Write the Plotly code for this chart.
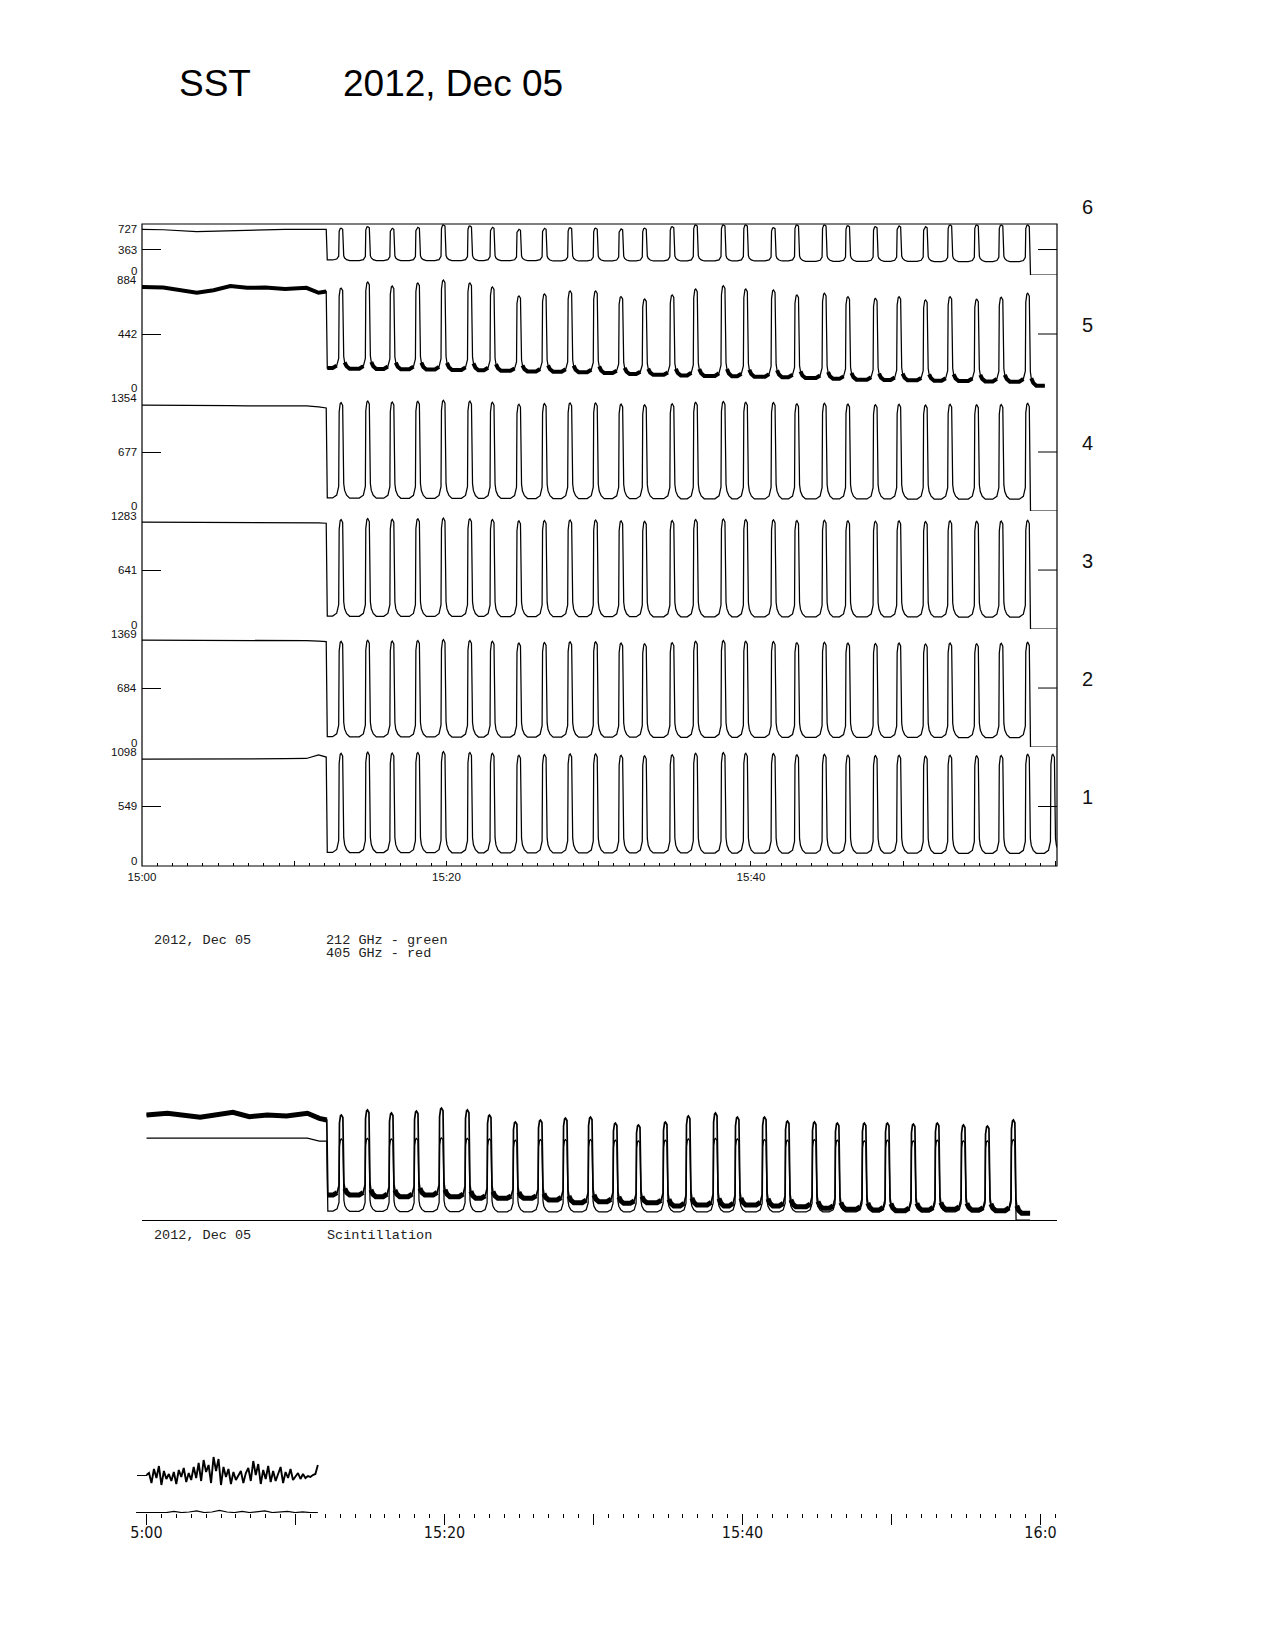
import plotly.graph_objects as go

W, H = 1275, 1650

# ---------------- data ----------------
# time in minutes after 15:00
PRE_T = [0, 1.4, 3.6, 4.7, 5.8, 6.9, 8.1, 9.4, 10.8, 11.6, 12.1]
DROP_T = 12.17
FINAL_T = 58.36
PEAK_T = [13.05, 14.80, 16.41, 18.09, 19.77, 21.51, 22.99, 24.73, 26.41, 28.09,
          29.77, 31.44, 32.99, 34.80, 36.34, 38.16, 39.63, 41.45, 42.99, 44.80,
          46.34, 48.15, 49.70, 51.44, 53.05, 54.80, 56.41, 58.15]

CH_TOP = [1098, 1369, 1283, 1354, 884, 727]      # channels 1..6
CH_MID = [549, 684, 641, 677, 442, 363]
CH_NAMES = ["1", "2", "3", "4", "5", "6"]

PRE_1 = [987, 987, 985, 985, 987, 987, 990, 990, 992, 1024, 1005]
PRE_2 = [1241, 1241, 1238, 1238, 1236, 1236, 1235, 1235, 1233, 1228, 1222]
PRE_3 = [1163, 1163, 1160, 1160, 1158, 1158, 1156, 1156, 1155, 1155, 1150]
PRE_4 = [1216, 1216, 1216, 1210, 1210, 1205, 1205, 1205, 1205, 1195, 1182]
PRE_5 = [794, 790, 751, 770, 801, 788, 790, 779, 788, 751, 760]
PRE_6 = [651, 645, 617, 625, 635, 641, 645, 651, 651, 651, 651]

PEAK_1 = [1040, 1050, 1042, 1047, 1055, 1047, 1040, 1022, 1028, 1034, 1034, 1022, 1016, 1026,
          1040, 1046, 1040, 1037, 1026, 1030, 1022, 1018, 1022, 1014, 1022, 1016, 1020, 1030]
VALLEY_1 = [125, 124, 124, 123, 123, 122, 122, 121, 121, 121, 120, 120, 120, 120,
            120, 119, 119, 119, 119, 118, 118, 118, 118, 118, 117, 117, 117, 117]
P1_EXTRA_T = 59.8
P1_EXTRA_PEAK = 1030
P1_EXTRA_VALLEY = 117

PEAK_2 = [1225, 1238, 1228, 1235, 1245, 1236, 1226, 1205, 1212, 1220, 1220, 1205, 1198, 1210,
          1226, 1234, 1226, 1222, 1210, 1215, 1205, 1200, 1205, 1195, 1205, 1198, 1202, 1214]
VALLEY_2 = [120, 118, 118, 117, 117, 116, 116, 115, 115, 115, 114, 114, 114, 113,
            113, 113, 113, 112, 112, 112, 112, 111, 111, 111, 111, 110, 110, 110]

PEAK_3 = [1190, 1200, 1192, 1198, 1205, 1198, 1190, 1175, 1180, 1185, 1185, 1175, 1170, 1178,
          1190, 1196, 1190, 1188, 1178, 1182, 1175, 1172, 1175, 1168, 1175, 1170, 1173, 1182]
VALLEY_3 = [140, 138, 138, 137, 137, 136, 136, 135, 135, 135, 134, 134, 134, 133,
            133, 133, 133, 132, 132, 132, 132, 131, 131, 131, 131, 130, 130, 130]

PEAK_4 = [1245, 1262, 1250, 1258, 1270, 1260, 1248, 1225, 1232, 1240, 1240, 1226, 1218, 1230,
          1248, 1256, 1248, 1244, 1230, 1236, 1226, 1220, 1225, 1215, 1225, 1218, 1222, 1236]
VALLEY_4 = [150, 148, 147, 146, 145, 145, 144, 144, 143, 143, 142, 142, 141, 141,
            140, 140, 140, 139, 139, 139, 138, 138, 138, 137, 137, 137, 136, 136]

PEAK_5 = [786, 831, 801, 824, 846, 824, 794, 727, 742, 764, 764, 722, 704, 734,
          779, 804, 779, 772, 734, 747, 722, 709, 721, 697, 721, 702, 717, 747]
VALLEY_5 = [187, 182, 180, 178, 176, 172, 170, 166, 162, 160, 156, 150, 142, 136,
            132, 128, 125, 122, 118, 112, 106, 100, 97, 95, 92, 90, 87, 85]
END_5 = 55
END_5_T = 59.3

PEAK_6 = [666, 688, 666, 680, 713, 699, 680, 651, 666, 674, 666, 656, 666, 688,
          713, 713, 713, 674, 713, 713, 703, 688, 699, 688, 713, 713, 713, 713]
VALLEY_6 = [214, 204, 204, 204, 204, 204, 204, 204, 204, 200, 200, 200, 200, 200,
            200, 200, 200, 200, 200, 195, 195, 195, 195, 195, 190, 190, 190, 190]

# overlay panel (212 GHz thin, 405 GHz thick), relative units
THICK_PRE = [87.5, 88.9, 85.6, 87.5, 89.7, 86.1, 87.5, 86.7, 88.9, 84.7, 83.3]
THICK_PEAK = [87.5, 91.7, 89.2, 90.8, 93.3, 91.7, 87.5, 81.7, 83.3, 85.0, 85.8, 80.8, 79.2, 81.7,
              86.7, 89.2, 85.8, 85.8, 82.5, 81.7, 80.8, 80.8, 80.8, 80.0, 80.8, 79.2, 78.3, 83.3]
THICK_VALLEY = [20.8, 20.8, 19.4, 19.4, 20.8, 19.4, 18.1, 18.1, 18.1, 16.7, 14.4, 15.3, 13.9, 14.4,
                11.7, 12.5, 11.7, 12.5, 11.7, 11.1, 9.7, 8.9, 8.3, 7.8, 8.3, 8.9, 8.3, 7.8]
THICK_END = 5.6
THICK_END_T = 59.3
THIN_PRE = [68.3, 68.3, 68.3, 68.3, 68.3, 68.3, 68.3, 68.3, 68.3, 65.8, 65.8]
THIN_PEAK = [67.5, 68, 67.5, 68, 68.5, 68, 67.5, 66.5, 67, 67, 67, 66.5, 66, 66.5,
             67.5, 68, 67.5, 67, 66.5, 67, 66.5, 66, 66.5, 66, 66.5, 66, 66, 67]
THIN_VALLEY = [7.5, 7.2, 7.2, 7.0, 7.0, 7.0, 6.9, 6.8, 6.8, 6.7, 6.7, 6.7, 6.7, 6.7,
               6.7, 6.7, 6.7, 6.7, 6.7, 6.7, 6.7, 6.7, 6.7, 6.7, 6.7, 6.7, 6.7, 6.7]

# scintillation panel
SCINT_T0, SCINT_T1 = 0.0, 11.5
SCINT = [38, 40, 30, 44, 35, 47, 28, 42, 34, 39, 32, 41, 29, 43, 36, 45, 31, 40, 33, 46,
         35, 50, 32, 53, 41, 48, 30, 56, 42, 54, 28, 46, 36, 44, 29, 41, 33, 37, 42, 30,
         40, 45, 32, 52, 38, 49, 29, 43, 34, 47, 31, 42, 32, 39, 46, 30, 41, 35, 44, 33,
         36, 40, 34, 39, 35, 37, 36, 38, 39, 48]
SCINT_LOW_T0 = -0.7
SCINT_LOW = [0.5, 0.5, 0.5, 1, 0.5, 1.5, 0.5, 1, 2, 0.5, 1, 2.5, 1, 0.5, 1.5, 0.5, 1, 2,
             0.5, 1, 1.5, 0.5, 1, 0.5, 0.5]
SCINT_TICK = 38

MAIN_TICKS = [0, 10, 20, 30, 40, 50, 60]
MAIN_TICKTEXT = ["15:00", "", "15:20", "", "15:40", "", ""]
SCINT_TICKTEXT = ["5:00", "", "15:20", "", "15:40", "", "16:0"]

# pulse shape template (minutes from peak, fraction of peak above valley)
PULSE_DT = [-0.53, -0.26, -0.13, -0.10, -0.03, 0.03, 0.13, 0.20, 0.26, 0.39, 0.59]
PULSE_FRAC = [0, 0.03, 0.12, 0.90, 0.99, 1.0, 0.97, 0.15, 0.08, 0.03, 0]


# ---------------- helpers ----------------
def px_x(x):
    return x / W


def px_y(y):
    return 1 - y / H


def build(pre, peak_t, peaks, valleys, after_last, tail, cut_last):
    thin_t, thin_v = list(PRE_T), list(pre)
    thick_t, thick_v = list(PRE_T) + [None], list(pre) + [None]
    seg = [(DROP_T, valleys[0], True)]
    n = len(peak_t)
    for i in range(n):
        tp, P = peak_t[i], peaks[i]
        vb = valleys[i]
        va = valleys[i + 1] if i + 1 < n else after_last
        for dt, f in zip(PULSE_DT, PULSE_FRAC):
            if cut_last and i == n - 1 and dt > 0.13:
                break
            base = vb if dt <= 0 else va
            seg.append((tp + dt, base + f * (P - base), f <= 0.08))
    seg += [(t, v, True) for t, v in tail]
    for t, v, k in seg:
        thin_t.append(t)
        thin_v.append(v)
        if k:
            thick_t.append(t)
            thick_v.append(v)
        elif thick_t[-1] is not None:
            thick_t.append(None)
            thick_v.append(None)
    return thin_t, thin_v, thick_t, thick_v


fig = go.Figure()
LINE = "black"
SANS = "Liberation Sans, Arial, sans-serif"
LW = 1.25

# ---------------- main 6-channel panel ----------------
BOUNDS = [(747, 866), (629, 747), (511, 629), (393, 511), (275, 393), (224, 275)]
zero_tail = [(FINAL_T, 0), (60.1, 0)]
series = [
    build(PRE_1, PEAK_T + [P1_EXTRA_T], PEAK_1 + [P1_EXTRA_PEAK], VALLEY_1 + [P1_EXTRA_VALLEY],
          P1_EXTRA_VALLEY, [], False),
    build(PRE_2, PEAK_T, PEAK_2, VALLEY_2, 0, zero_tail, True),
    build(PRE_3, PEAK_T, PEAK_3, VALLEY_3, 0, zero_tail, True),
    build(PRE_4, PEAK_T, PEAK_4, VALLEY_4, 0, zero_tail, True),
    build(PRE_5, PEAK_T, PEAK_5, VALLEY_5, END_5, [(END_5_T, END_5)], False),
    build(PRE_6, PEAK_T, PEAK_6, VALLEY_6, 0, zero_tail, True),
]

layout_axes = {}
annotations = []
shapes = []
for k in range(6):
    yname = "y" if k == 0 else f"y{k + 1}"
    ykey = "yaxis" if k == 0 else f"yaxis{k + 1}"
    tt, tv, kt, kv = series[k]
    fig.add_trace(go.Scatter(x=tt, y=tv, xaxis="x", yaxis=yname, mode="lines",
                             line=dict(color=LINE, width=LW), hoverinfo="skip"))
    if k == 4:
        fig.add_trace(go.Scatter(x=kt, y=kv, xaxis="x", yaxis=yname, mode="lines",
                                 line=dict(color=LINE, width=4), hoverinfo="skip"))
    top, bot = BOUNDS[k]
    layout_axes[ykey] = dict(
        domain=[px_y(bot), px_y(top)], range=[0, CH_TOP[k]], anchor="x",
        tickmode="array", tickvals=[0, CH_MID[k], CH_TOP[k]], ticks="inside", ticklen=19,
        tickcolor=LINE, tickwidth=1, showticklabels=False, showgrid=False,
        zeroline=False, showline=False, fixedrange=True, automargin=False)
    # left labels
    for val, shift in ((0, 4.5), (CH_MID[k], 0), (CH_TOP[k], -5)):
        annotations.append(dict(
            x=px_x(139), xref="paper", xanchor="right", y=val, yref=yname, yanchor="middle",
            yshift=shift, text=str(val), showarrow=False,
            font=dict(family=SANS, size=11.5, color="#111")))
    # right mid tick
    shapes.append(dict(type="line", xref="paper", yref=yname, x0=px_x(1038), x1=px_x(1057),
                       y0=CH_MID[k], y1=CH_MID[k], line=dict(color=LINE, width=1)))
    # channel number
    annotations.append(dict(
        x=px_x(1087), xref="paper", xanchor="center", y=px_y(797 - 118 * k), yref="paper",
        yanchor="middle", text=CH_NAMES[k], showarrow=False,
        font=dict(family=SANS, size=20, color="#111")))

# frame
shapes.append(dict(type="rect", xref="paper", yref="paper", x0=px_x(142), x1=px_x(1057),
                   y0=px_y(866), y1=px_y(224), line=dict(color=LINE, width=1.2)))

# ---------------- overlay panel ----------------
tn_t, tn_v, _, _ = build(THIN_PRE, PEAK_T, THIN_PEAK, THIN_VALLEY, 0,
                         [(FINAL_T, 0), (THICK_END_T, 0)], True)
tk_t, tk_v, kk_t, kk_v = build(THICK_PRE, PEAK_T, THICK_PEAK, THICK_VALLEY, THICK_END,
                               [(THICK_END_T, THICK_END)], False)
fig.add_trace(go.Scatter(x=tn_t, y=tn_v, xaxis="x2", yaxis="y7", mode="lines",
                         line=dict(color=LINE, width=LW), hoverinfo="skip"))
fig.add_trace(go.Scatter(x=tk_t, y=tk_v, xaxis="x2", yaxis="y7", mode="lines",
                         line=dict(color=LINE, width=1.7), hoverinfo="skip"))
fig.add_trace(go.Scatter(x=kk_t, y=kk_v, xaxis="x2", yaxis="y7", mode="lines",
                         line=dict(color=LINE, width=5), hoverinfo="skip"))

# ---------------- scintillation panel ----------------
n = len(SCINT)
sc_t = [SCINT_T0 + (SCINT_T1 - SCINT_T0) * i / (n - 1) for i in range(n)]
m = len(SCINT_LOW)
lo_t = [SCINT_LOW_T0 + (SCINT_T1 - SCINT_LOW_T0) * i / (m - 1) for i in range(m)]
fig.add_trace(go.Scatter(x=lo_t, y=SCINT_LOW, xaxis="x3", yaxis="y8", mode="lines",
                         line=dict(color=LINE, width=LW), hoverinfo="skip"))
fig.add_trace(go.Scatter(x=sc_t, y=SCINT, xaxis="x3", yaxis="y8", mode="lines",
                         line=dict(color=LINE, width=1.9), hoverinfo="skip"))

# ---------------- texts ----------------
TITLE_FONT = dict(family=SANS, size=37, color="#000")
MONO = dict(family="Liberation Mono, DejaVu Sans Mono, monospace", size=13.5, color="#222")
texts = [
    dict(x=px_x(177), y=px_y(84), text="SST", font=TITLE_FONT),
    dict(x=px_x(341), y=px_y(84), text="2012, Dec 05", font=TITLE_FONT),
    dict(x=px_x(152), y=px_y(940), text="2012, Dec 05", font=MONO),
    dict(x=px_x(324), y=px_y(940), text="212 GHz - green", font=MONO),
    dict(x=px_x(324), y=px_y(953), text="405 GHz - red", font=MONO),
    dict(x=px_x(152), y=px_y(1235), text="2012, Dec 05", font=MONO),
    dict(x=px_x(325), y=px_y(1235), text="Scintillation", font=MONO),
]
for a in texts:
    a.update(xref="paper", yref="paper", xanchor="left", yanchor="middle", showarrow=False)
annotations += texts

fig.update_layout(
    width=W, height=H, autosize=False,
    margin=dict(l=0, r=0, t=0, b=0, pad=0, autoexpand=False),
    paper_bgcolor="white", plot_bgcolor="rgba(0,0,0,0)",
    showlegend=False,
    xaxis=dict(domain=[px_x(142), px_x(1057)], range=[0, 60.1], anchor="y",
               tickmode="array", tickvals=MAIN_TICKS, ticktext=MAIN_TICKTEXT,
               ticks="inside", ticklen=5, tickcolor=LINE,
               minor=dict(ticks="inside", ticklen=3, dtick=1, tick0=0, tickcolor=LINE, showgrid=False),
               ticklabelstandoff=2, automargin=False,
               showgrid=False, zeroline=False, showline=False, fixedrange=True,
               tickfont=dict(family=SANS, size=11.5, color="#111")),
    xaxis4=dict(overlaying="x", matches="x", anchor="y6", side="top",
                tickmode="array", tickvals=MAIN_TICKS, ticks="inside", ticklen=5, tickcolor=LINE,
                minor=dict(ticks="inside", ticklen=3, dtick=1, tick0=0, tickcolor=LINE, showgrid=False),
                showticklabels=False, showgrid=False, zeroline=False, showline=False,
                fixedrange=True, automargin=False),
    xaxis2=dict(domain=[px_x(142), px_x(1057)], range=[-0.302, 61.107], anchor="y7",
                showline=True, linecolor=LINE, linewidth=1.2, ticks="", showticklabels=False,
                showgrid=False, zeroline=False, fixedrange=True, automargin=False),
    yaxis7=dict(domain=[px_y(1220), px_y(1100)], range=[0, 100], anchor="x2",
                visible=False, fixedrange=True, automargin=False),
    xaxis3=dict(domain=[px_x(136), px_x(1057)], range=[-0.705, 61.107], anchor="y8",
                tickmode="array", tickvals=MAIN_TICKS, ticktext=SCINT_TICKTEXT,
                ticks="outside", ticklen=11, tickcolor=LINE, tickwidth=1,
                minor=dict(ticks="outside", ticklen=4, dtick=1, tick0=0, tickcolor=LINE, showgrid=False),
                ticklabelstandoff=-6, automargin=False,
                showline=False, showgrid=False, zeroline=False, fixedrange=True,
                tickfont=dict(family="Liberation Sans Narrow, DejaVu Sans Condensed, Liberation Sans, sans-serif",
                              size=16, color="#111")),
    yaxis8=dict(domain=[px_y(1513), px_y(1453)], range=[0, 60], anchor="free",
                position=px_x(146.5), tickmode="array", tickvals=[SCINT_TICK],
                ticks="outside", ticklen=10, tickcolor=LINE, showticklabels=False,
                showline=False, showgrid=False, zeroline=False, fixedrange=True,
                automargin=False),
    annotations=annotations,
    shapes=shapes,
)
fig.update_layout(**layout_axes)

fig.write_html("out.html")
